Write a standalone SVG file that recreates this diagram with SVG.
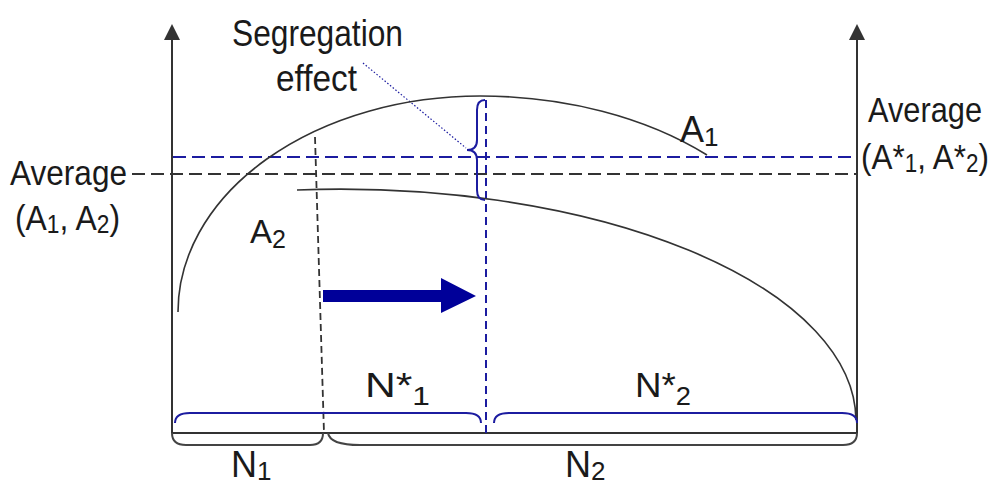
<svg xmlns="http://www.w3.org/2000/svg" width="990" height="482" viewBox="0 0 990 482">
<style>
.t{font-family:"Liberation Sans",Arial,sans-serif;fill:#1a1a1a}
.ax{stroke:#333;stroke-width:2;fill:none}
.cv{stroke:#333;stroke-width:1.6;fill:none}
.kd{stroke:#333;stroke-width:1.8;fill:none;stroke-dasharray:13 6}
.bd{stroke:#1c1ca0;stroke-width:1.8;fill:none;stroke-dasharray:13 6}
.bv{stroke:#1c1ca0;stroke-width:2;fill:none;stroke-dasharray:8 5}
.kv{stroke:#333;stroke-width:1.8;fill:none;stroke-dasharray:7 4}
.bb{stroke:#1c1ca0;stroke-width:2;fill:none}
.gb{stroke:#444;stroke-width:2;fill:none}
</style>
<rect width="990" height="482" fill="#fff"/>
<g id="axes">
<line class="ax" x1="172" y1="433" x2="172" y2="38"/>
<polygon points="164,40 180,40 172,24" fill="#333"/>
<line class="ax" x1="857" y1="433" x2="857" y2="38"/>
<polygon points="849,40 865,40 857,24" fill="#333"/>
<line class="ax" x1="172" y1="433" x2="857" y2="433"/>
</g>
<g id="connectors">
<line class="kd" x1="132" y1="174" x2="856" y2="174"/>
<line class="bd" x1="173" y1="157" x2="856" y2="157"/>
<line class="kv" x1="315" y1="137" x2="324" y2="433"/>
<line class="bv" x1="486" y1="100" x2="486" y2="433"/>
<line x1="363" y1="63" x2="466" y2="148" stroke="#1c1ca0" stroke-width="1.2" stroke-dasharray="1.5 2"/>
</g>
<g id="curveA1">
<path class="cv" d="M178,312 A302,216 0 0 1 480,96 A330,216 0 0 1 707,155"/>
</g>
<g id="curveA2">
<path class="cv" d="M297,190 A516,232 0 0 1 856,420"/>
</g>
<g id="braces">
<path class="bb" d="M485,100 Q477,100 477,110 L477,140 Q477,150 467,150 Q477,150 477,160 L477,190 Q477,200 485,200"/>
<path class="bb" d="M175,423 Q175,413 190,413 L466,413 Q481,413 481,423"/>
<path class="bb" d="M494,423 Q494,413 509,413 L842,413 Q857,413 857,423"/>
<path class="gb" d="M172,433 Q172,445 186,445 L310,445 Q323,445 323,433"/>
<path class="gb" d="M328,433 Q330,445 360,445 L843,445 Q857,445 857,433"/>
</g>
<g id="arrow">
<polygon points="323,290 441,290 441,278 476,296 441,313 441,302 323,302" fill="#000099"/>
</g>
<g id="labels">
<text class="t" x="232" y="46" font-size="36" textLength="171" lengthAdjust="spacingAndGlyphs">Segregation</text>
<text class="t" x="276" y="91" font-size="36" textLength="81" lengthAdjust="spacingAndGlyphs">effect</text>
<text class="t" x="10" y="185" font-size="35" textLength="117" lengthAdjust="spacingAndGlyphs">Average</text>
<text class="t" x="15" y="230" font-size="35" textLength="105" lengthAdjust="spacingAndGlyphs">(A<tspan font-size="25" dy="3">1</tspan><tspan dy="-3">, A</tspan><tspan font-size="25" dy="3">2</tspan><tspan dy="-3">)</tspan></text>
<text class="t" x="868" y="122" font-size="35" textLength="114" lengthAdjust="spacingAndGlyphs">Average</text>
<text class="t" x="861" y="169" font-size="35" textLength="128" lengthAdjust="spacingAndGlyphs">(A*<tspan font-size="25" dy="3">1</tspan><tspan dy="-3">, A*</tspan><tspan font-size="25" dy="3">2</tspan><tspan dy="-3">)</tspan></text>
<text class="t" x="680" y="142" font-size="36">A<tspan font-size="26" dy="4">1</tspan></text>
<text class="t" x="250" y="243" font-size="33">A<tspan font-size="25" dy="5">2</tspan></text>
<text class="t" x="365" y="397" font-size="35" textLength="65" lengthAdjust="spacingAndGlyphs">N*<tspan font-size="26" dy="8">1</tspan></text>
<text class="t" x="635" y="397" font-size="35" textLength="56" lengthAdjust="spacingAndGlyphs">N*<tspan font-size="26" dy="8">2</tspan></text>
<text class="t" x="231" y="477" font-size="36">N<tspan font-size="26" dy="3">1</tspan></text>
<text class="t" x="565" y="477" font-size="36">N<tspan font-size="26" dy="3">2</tspan></text>
</g>
</svg>
